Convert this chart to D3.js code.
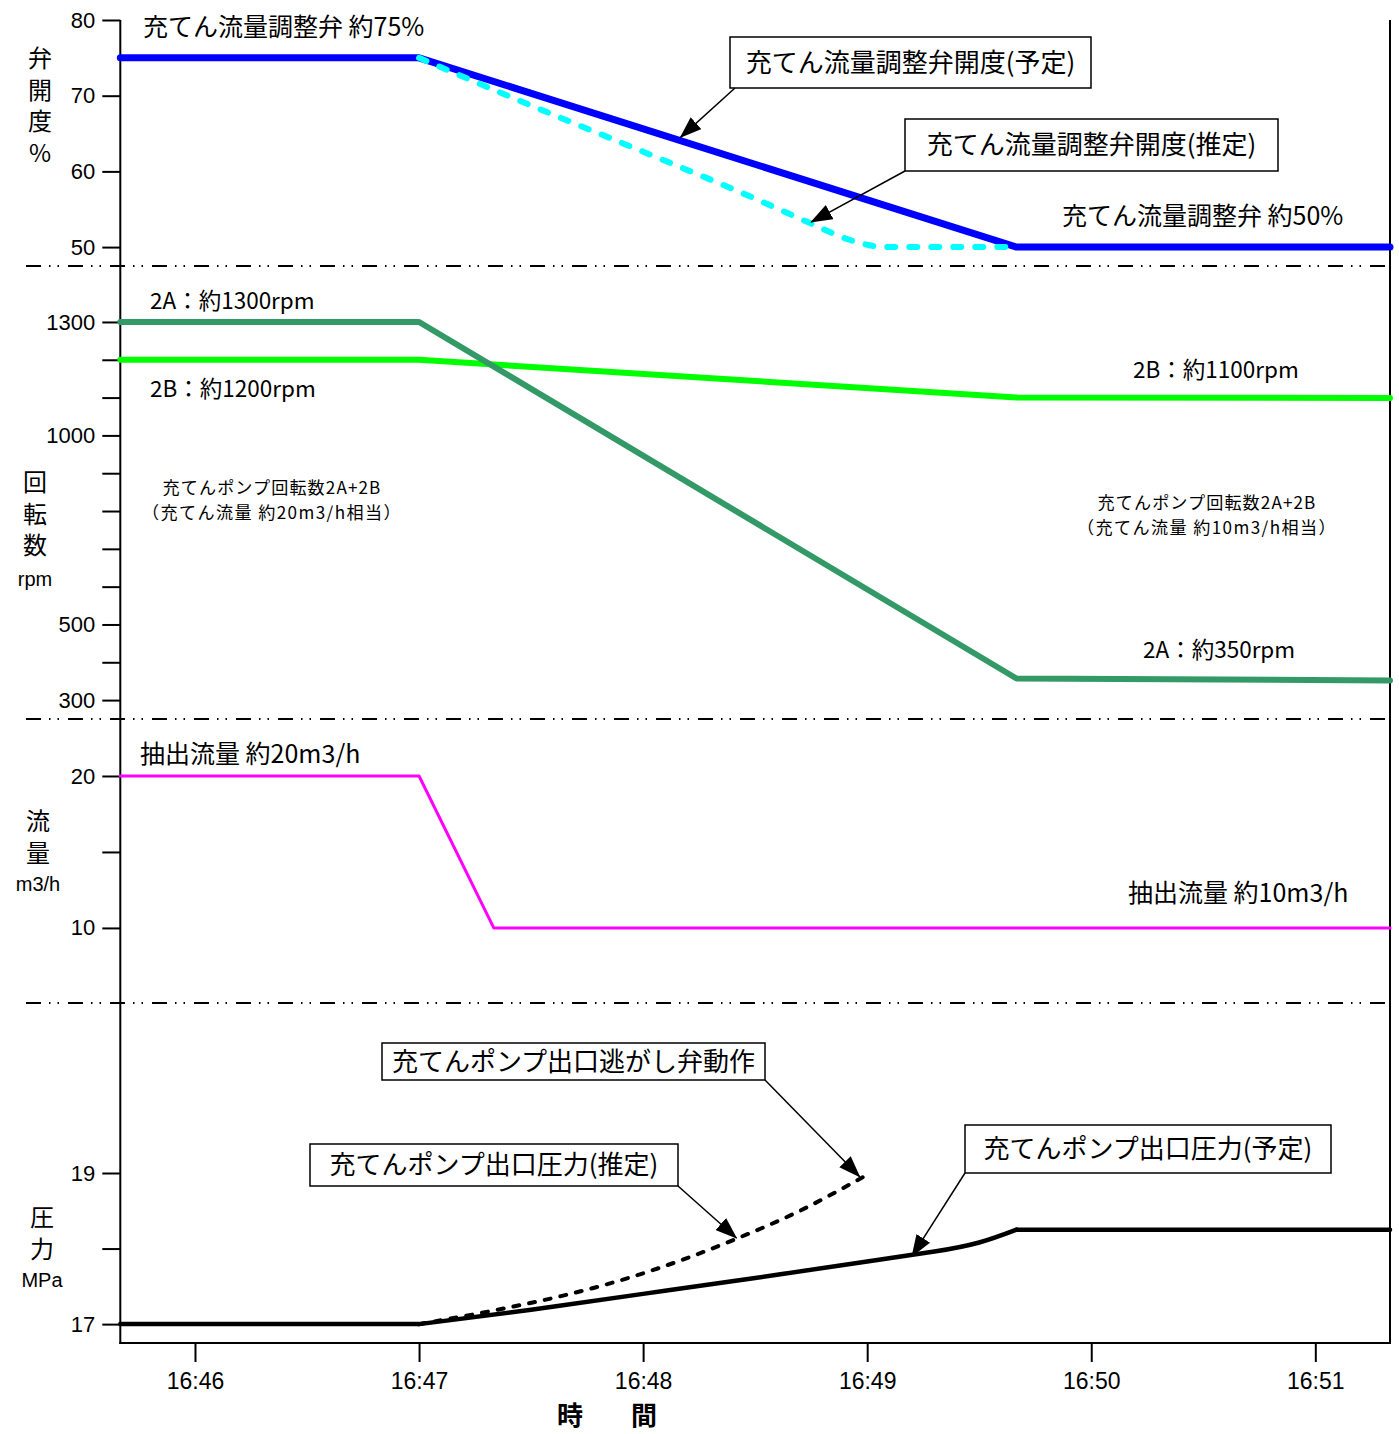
<!DOCTYPE html>
<html><head><meta charset="utf-8">
<script src="https://cdn.jsdelivr.net/npm/d3@7"></script>
<style>
html,body{margin:0;padding:0;background:#fff;}
text{font-family:"Liberation Sans","Noto Sans CJK JP",sans-serif;fill:#000;}
.jp{font-family:"Noto Sans CJK JP","Liberation Sans",sans-serif;}
.vert{font-family:"Noto Sans CJK JP",sans-serif;writing-mode:vertical-rl;text-orientation:upright;}
</style></head>
<body>
<svg id="c" width="1399" height="1434"></svg>
<script>
// ---------------- data ----------------
const timeTicks = ["16:46:00","16:47:00","16:48:00","16:49:00","16:50:00","16:51:00"];
const timeDomain = ["16:45:40","16:51:20"];

const valvePlanTimes = ["16:45:40","16:47:00","16:49:40","16:51:20"];
const valvePlan      = [75, 75, 50, 50];
const valveEstTimes  = ["16:47:00","16:47:30","16:48:00","16:48:30","16:48:45","16:48:55","16:49:05","16:49:40"];
const valveEst       = [75, 68.7, 62.6, 56.4, 53.1, 51.0, 50, 50];

const rpmTimes = ["16:45:40","16:47:00","16:49:40","16:51:20"];
const rpm2A    = [1300, 1300, 357, 352];
const rpm2B    = [1200, 1200, 1100, 1099];

const flowTimes = ["16:45:40","16:47:00","16:47:20","16:51:20"];
const flow      = [20, 20, 10, 10];

// planned pressure: flat before, rising curve, flat after
const presPlanTimes = ["16:45:40","16:47:00","16:47:30","16:48:00","16:48:30","16:49:00","16:49:18","16:49:30","16:49:40","16:51:20"];
const presPlan      = [17, 17, 17.19, 17.40, 17.61, 17.83, 17.96, 18.08, 18.25, 18.25];
const presEstTimes  = ["16:47:00","16:47:22","16:47:38","16:47:56","16:48:11","16:48:25","16:48:42","16:48:59"];
const presEst       = [17, 17.2, 17.37, 17.61, 17.86, 18.13, 18.5, 18.95];

const valveTicks = [50, 60, 70, 80];
const rpmTicks = [300,400,500,600,700,800,900,1000,1100,1200,1300];
const rpmLabels = [300, 500, 1000, 1300];
const flowTicks = [10, 15, 20];
const flowLabels = [10, 20];
const presTicks = [17, 18, 19];
const presLabels = [17, 19];

// ---------------- setup ----------------
const parse = d3.timeParse("%H:%M:%S");
const svg = d3.select("#c");
svg.append("rect").attr("width",1399).attr("height",1434).attr("fill","#fff");

const X0 = 120.3, X1 = 1390;
const x = d3.scaleTime().domain(timeDomain.map(parse)).range([X0, X1]);
const yV = d3.scaleLinear().domain([47.5, 80]).range([266, 20]);
const yR = d3.scaleLinear().domain([250, 1448]).range([719, 266]);
const yF = d3.scaleLinear().domain([5.06, 23.75]).range([1003, 719]);
const yP = d3.scaleLinear().domain([16.75, 21.25]).range([1343, 1003]);

// markers
const defs = svg.append("defs");
defs.append("marker").attr("id","ah").attr("viewBox","0 0 22 16")
  .attr("refX",21).attr("refY",8).attr("markerWidth",22).attr("markerHeight",16)
  .attr("markerUnits","userSpaceOnUse").attr("orient","auto")
  .append("path").attr("d","M0,0 L22,8 L0,16 Z").attr("fill","#000");

// separators (dash-dot-dot)
[266, 719, 1003].forEach(yy => {
  svg.append("line").attr("x1",26).attr("x2",X1).attr("y1",yy).attr("y2",yy)
    .attr("stroke","#000").attr("stroke-width",2)
    .attr("stroke-dasharray","15,8,1.5,7,1.5,9");
});

// axes
function leftAxis(scale, ticks, labels, fmt) {
  const g = svg.append("g").attr("transform",`translate(${X0},0)`)
    .call(d3.axisLeft(scale).tickValues(ticks).tickSize(18).tickPadding(7)
      .tickFormat(d => labels.includes(d) ? fmt(d) : ""));
  g.select(".domain").remove();
  g.selectAll(".tick line").attr("stroke","#000").attr("stroke-width",2);
  g.selectAll(".tick text").attr("font-size",22).attr("fill","#000")
    .style("font-family","'Liberation Sans',sans-serif");
  return g;
}
leftAxis(yV, valveTicks, valveTicks, d => d);
leftAxis(yR, rpmTicks, rpmLabels, d => d);
leftAxis(yF, flowTicks, flowLabels, d => d);
leftAxis(yP, presTicks, presLabels, d => d);

const gx = svg.append("g").attr("transform","translate(0,1343)")
  .call(d3.axisBottom(x).tickValues(timeTicks.map(parse)).tickSize(19).tickPadding(11)
    .tickFormat(d3.timeFormat("%H:%M")));
gx.select(".domain").remove();
gx.selectAll(".tick line").attr("stroke","#000").attr("stroke-width",2);
gx.selectAll(".tick text").attr("font-size",23).attr("fill","#000")
  .style("font-family","'Liberation Sans',sans-serif");

// frame lines
svg.append("line").attr("x1",X0).attr("x2",X0).attr("y1",20).attr("y2",1344).attr("stroke","#000").attr("stroke-width",2);
svg.append("line").attr("x1",X1).attr("x2",X1).attr("y1",20).attr("y2",1344).attr("stroke","#000").attr("stroke-width",2);
svg.append("line").attr("x1",X0-1).attr("x2",X1+1).attr("y1",1343).attr("y2",1343).attr("stroke","#000").attr("stroke-width",2);

// series
function series(times, vals, y, color, width, dash, curve) {
  const data = times.map((t,i) => ({t: parse(t), v: vals[i]}));
  const line = d3.line().x(d => x(d.t)).y(d => y(d.v)).curve(curve || d3.curveLinear);
  const p = svg.append("path").datum(data).attr("d", line).attr("fill","none")
    .attr("stroke",color).attr("stroke-width",width)
    .attr("stroke-linecap","round").attr("stroke-linejoin","round");
  if (dash) p.attr("stroke-dasharray", dash);
  return p;
}
series(valvePlanTimes, valvePlan, yV, "#0000FF", 7);
series(valveEstTimes, valveEst, yV, "#00FFFF", 6, "8,14", d3.curveMonotoneX);
series(rpmTimes, rpm2B, yR, "#00FF00", 6);
series(rpmTimes, rpm2A, yR, "#339966", 6);
series(flowTimes, flow, yF, "#FF00FF", 3);
// planned pressure: flat parts straight, rising part smoothed
const nP = presPlanTimes.length;
series(presPlanTimes.slice(0,2), presPlan.slice(0,2), yP, "#000", 4.5);
series(presPlanTimes.slice(1,nP-1), presPlan.slice(1,nP-1), yP, "#000", 4.5, null, d3.curveNatural);
series(presPlanTimes.slice(nP-2), presPlan.slice(nP-2), yP, "#000", 4.5);
series(presEstTimes, presEst, yP, "#000", 4, "6,10", d3.curveMonotoneX);

// axis titles: vertical CJK + horizontal unit
function vtitle(txt, unit, cx, top, unitY) {
  svg.append("text").attr("class","vert").attr("x",cx).attr("y",top)
    .attr("font-size",24).attr("letter-spacing","7.5px").text(txt);
  if (unit) svg.append("text").attr("x",cx).attr("y",unitY).attr("text-anchor","middle")
    .attr("font-size",20).style("font-family","'Liberation Sans',sans-serif").text(unit);
}
vtitle("弁開度%", null, 40, 46, 0);
vtitle("回転数", "rpm", 35, 470, 586);
vtitle("流量", "m3/h", 38, 809, 891);
vtitle("圧力", "MPa", 42, 1205, 1287);

const tt = svg.append("text").attr("class","jp").attr("font-size",26).attr("font-weight","bold")
  .attr("text-anchor","middle");
tt.append("tspan").attr("x",570).attr("y",1425).text("時");
tt.append("tspan").attr("x",644).attr("y",1425).text("間");

// plain labels
function label(txt, xx, yy, size, anchor) {
  svg.append("text").attr("class","jp").attr("x",xx).attr("y",yy)
    .attr("font-size",size).attr("text-anchor",anchor||"start").text(txt);
}
function label2(lines, xx, yy, step, size, spacings) {
  lines.forEach((s,i) => svg.append("text").attr("class","jp").attr("font-size",size)
    .attr("text-anchor","middle").attr("letter-spacing",spacings[i]+"px")
    .attr("x",xx).attr("y",yy + i*step).text(s));
}
label("充てん流量調整弁 約75%", 143, 36, 25);
label("充てん流量調整弁 約50%", 1062, 225, 25);
label("2A：約1300rpm", 150, 309, 22.5);
label("2B：約1200rpm", 150, 397, 22.5);
label("2B：約1100rpm", 1133, 378, 22.5);
label("2A：約350rpm", 1143, 658, 22.5);
label2(["充てんポンプ回転数2A+2B", "（充てん流量 約20m3/h相当）"], 272, 494, 25, 17.1, [1.1, 1.4]);
label2(["充てんポンプ回転数2A+2B", "（充てん流量 約10m3/h相当）"], 1207, 509, 25, 17.1, [1.1, 1.4]);
label("抽出流量 約20m3/h", 140, 763, 25);
label("抽出流量 約10m3/h", 1128, 902, 25);

// callout boxes with arrows (tips at data points)
function callout(txt, bx, by, bw, bh, sx, sy, tipT, tipV, yScale) {
  svg.append("rect").attr("x",bx).attr("y",by).attr("width",bw).attr("height",bh)
    .attr("fill","#fff").attr("stroke","#000").attr("stroke-width",1.5);
  svg.append("text").attr("class","jp").attr("x",bx+bw/2).attr("y",by+bh/2+9)
    .attr("text-anchor","middle").attr("font-size",26).text(txt);
  svg.append("line").attr("x1",sx).attr("y1",sy)
    .attr("x2",x(parse(tipT))).attr("y2",yScale(tipV))
    .attr("stroke","#000").attr("stroke-width",1.5).attr("marker-end","url(#ah)");
}
callout("充てん流量調整弁開度(予定)", 730, 37, 361, 51, 735, 88, "16:48:10", 64.5, yV);
callout("充てん流量調整弁開度(推定)", 905, 119, 373, 52, 905, 171, "16:48:45", 53.3, yV);
callout("充てんポンプ出口逃がし弁動作", 382, 1043, 383, 37, 765, 1080, "16:48:58", 18.95, yP);
callout("充てんポンプ出口圧力(推定)", 310, 1144, 368, 42, 678, 1186, "16:48:25", 18.14, yP);
callout("充てんポンプ出口圧力(予定)", 965, 1125, 366, 48, 965, 1173, "16:49:12", 17.9, yP);
</script>
</body></html>
